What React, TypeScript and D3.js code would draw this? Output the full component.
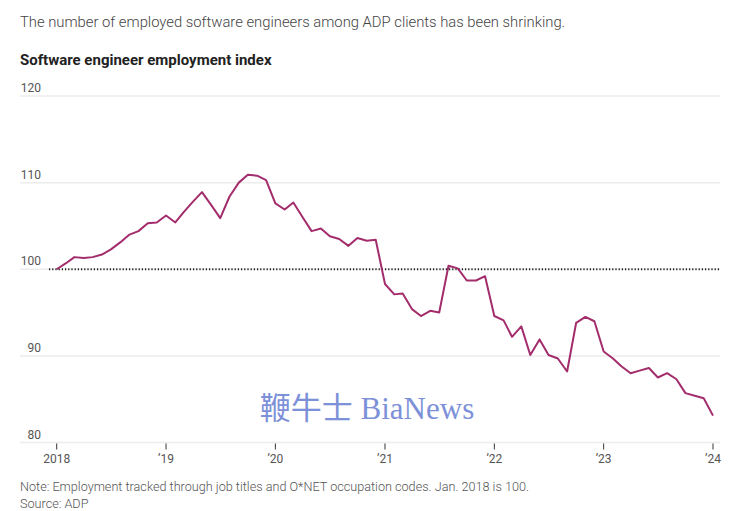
import React from "react";
import * as d3 from "d3";

const values: number[] = [
  100, 100.7, 101.4, 101.3, 101.4, 101.7, 102.3, 103.1, 104.0, 104.4, 105.3, 105.4,
  106.2, 105.4, 106.6, 107.8, 108.9, 107.4, 105.9, 108.4, 110.0, 110.9, 110.8, 110.3,
  107.6, 106.9, 107.7, 106.0, 104.4, 104.7, 103.8, 103.5, 102.7, 103.6, 103.3, 103.4,
  98.3, 97.1, 97.2, 95.4, 94.6, 95.2, 95.0, 100.4, 100.1, 98.7, 98.7, 99.2,
  94.6, 94.1, 92.2, 93.4, 90.1, 91.9, 90.1, 89.7, 88.2, 93.8, 94.5, 94.0,
  90.5, 89.7, 88.8, 88.0, 88.3, 88.6, 87.5, 88.0, 87.3, 85.7, 85.4, 85.1,
  83.1,
];
const yTicks: number[] = [80, 90, 100, 110, 120];
const xTickYears: number[] = [2018, 2019, 2020, 2021, 2022, 2023, 2024];
const xTickLabels: string[] = ["2018", "\u201919", "\u201920", "\u201921", "\u201922", "\u201923", "\u201924"];

const title = "The number of employed software engineers among ADP clients has been shrinking.";
const subtitle = "Software engineer employment index";
const note = "Note: Employment tracked through job titles and O*NET occupation codes. Jan. 2018 is 100.";
const source = "Source: ADP";
const watermark = "鞭牛士 BiaNews";

const W = 735;
const H = 511;
const FONT = "Roboto, 'Noto Sans', sans-serif";

export default function App() {
  const dates = values.map((_, i) => new Date(2018, i, 1));
  const x = d3
    .scaleTime()
    .domain([new Date(2018, 0, 1), new Date(2024, 0, 1)])
    .range([56.7, 713]);
  const y = d3.scaleLinear().domain([80, 120]).range([442.5, 96]);
  const line = d3
    .line<number>()
    .x((_, i) => x(dates[i]))
    .y((d) => y(d));

  return (
    <svg
      width={W}
      height={H}
      style={{ position: "absolute", left: 0, top: 0, background: "#fff" }}
      fontFamily={FONT}
    >
      <text x={20} y={26.5} fontSize={14.8} fill="#444" fontWeight={300}>
        {title}
      </text>
      <text x={20} y={65} fontSize={15} fill="#222" fontWeight={700}>
        {subtitle}
      </text>
      {yTicks.map((t) => (
        <g key={t}>
          <line x1={20} x2={720} y1={y(t)} y2={y(t)} stroke="#ececec" strokeWidth={1.5} />
          <text x={41} y={y(t) - 4} fontSize={12} fill="#555" textAnchor="end">
            {t}
          </text>
        </g>
      ))}
      <line
        x1={49}
        x2={720}
        y1={y(100)}
        y2={y(100)}
        stroke="#222"
        strokeWidth={2}
        strokeDasharray="1.2,2"
      />
      {xTickYears.map((yr, i) => {
        const px = x(new Date(yr, 0, 1));
        return (
          <g key={yr}>
            <line x1={px} x2={px} y1={y(80) + 1} y2={y(80) + 7} stroke="#333" strokeWidth={1} />
            <text x={px} y={463} fontSize={12} fill="#555" textAnchor="middle">
              {xTickLabels[i]}
            </text>
          </g>
        );
      })}
      <path d={line(values) || ""} fill="none" stroke="#a32d6c" strokeWidth={2} strokeLinejoin="round" />
      <text
        x={367}
        y={419}
        fontSize={31}
        fill="#7d91d8"
        textAnchor="middle"
        fontFamily="'Liberation Serif', 'Noto Sans CJK SC', serif"
      >
        {watermark}
      </text>
      <text x={20} y={491} fontSize={12.65} fill="#555" fontWeight={300}>
        {note}
      </text>
      <text x={20} y={508} fontSize={12.65} fill="#555" fontWeight={300}>
        {source}
      </text>
    </svg>
  );
}
